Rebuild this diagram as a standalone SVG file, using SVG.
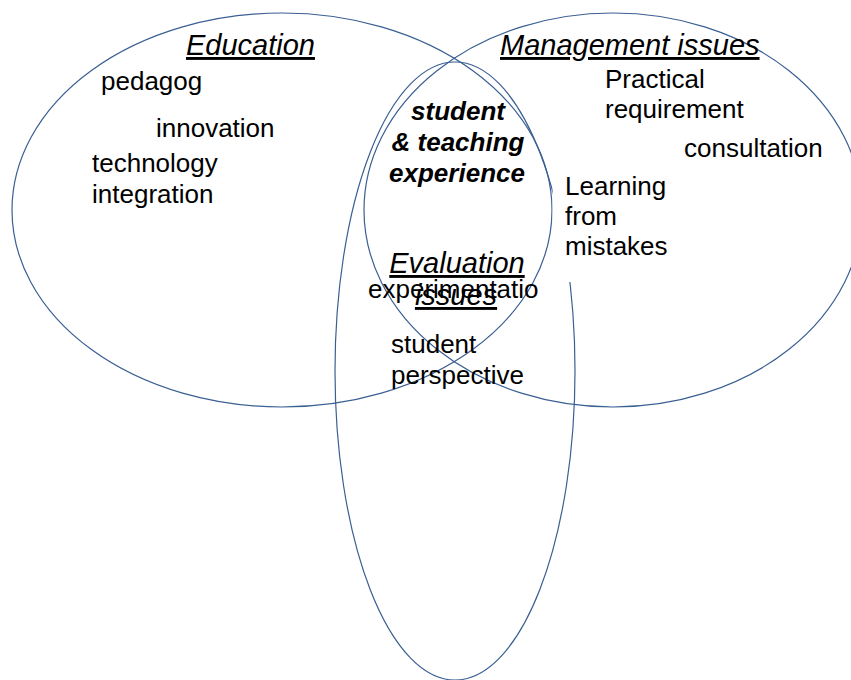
<svg xmlns="http://www.w3.org/2000/svg" width="851" height="680" viewBox="0 0 851 680">
<style>
.set{fill:none;stroke:#3a5f92;stroke-width:1.2}
text{font-family:"Liberation Sans",Arial,sans-serif;fill:#000}
.b{font-size:26px}
.h{font-size:29px;font-style:italic;text-decoration:underline}
.bi{font-size:26px;font-weight:bold;font-style:italic}
</style>
<rect width="851" height="680" fill="#fff"/>
<g id="connectors"/>
<g id="education-set"><ellipse class="set" cx="282" cy="210" rx="270" ry="197"/></g>
<g id="management-set"><ellipse class="set" cx="613" cy="210" rx="249" ry="197"/></g>
<g id="evaluation-set"><ellipse class="set" cx="455" cy="371" rx="120" ry="309"/></g>
<g id="education">
<text class="h" x="186" y="55">Education</text>
<text class="b" x="101" y="90">pedagog</text>
<text class="b" x="156" y="137">innovation</text>
<text class="b" x="92" y="172">technology</text>
<text class="b" x="92" y="203">integration</text>
</g>
<g id="management">
<text class="h" x="500" y="55">Management issues</text>
<text class="b" x="605" y="88">Practical</text>
<text class="b" x="605" y="118">requirement</text>
<text class="b" x="684" y="157">consultation</text>
<rect x="552.6" y="180" width="120" height="102" fill="#fff"/>
<text class="b" x="565" y="195">Learning</text>
<text class="b" x="565" y="225">from</text>
<text class="b" x="565" y="255">mistakes</text>
</g>
<g id="center">
<text class="bi" x="458" y="120" text-anchor="middle">student</text>
<text class="bi" x="458" y="151" text-anchor="middle">&amp; teaching</text>
<text class="bi" x="457" y="182" text-anchor="middle">experience</text>
</g>
<g id="evaluation">
<text class="h" x="457" y="273" text-anchor="middle">Evaluation</text>
<text class="b" x="368" y="298">experimentatio</text>
<text class="h" x="456" y="305" text-anchor="middle">issues</text>
<text class="b" x="391" y="353">student</text>
<text class="b" x="391" y="384">perspective</text>
</g>
</svg>
